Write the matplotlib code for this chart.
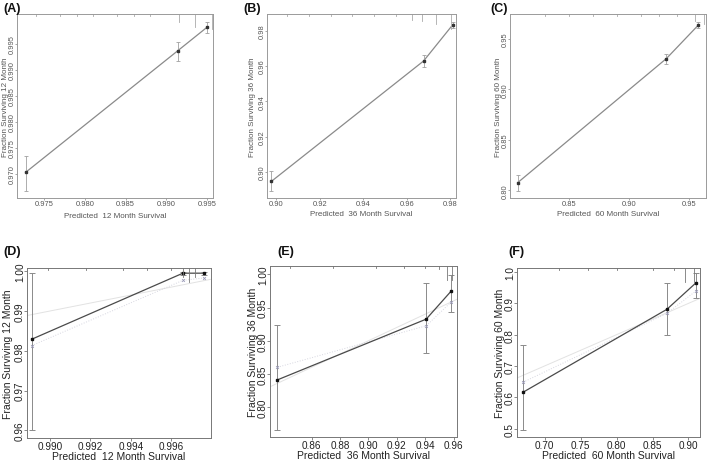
import matplotlib
matplotlib.use("Agg")
import matplotlib.pyplot as plt
from matplotlib.ticker import FormatStrFormatter

plt.rcParams['font.family'] = ['Liberation Sans', 'DejaVu Sans']

# ---- data ----
# top row (A-C): apparent calibration, three risk groups each
a_pred = [0.97275, 0.99140, 0.99496]
a_obs = [0.9703, 0.99372, 0.99821]
a_lo = [0.9667, 0.99180, 0.9971]
a_hi = [0.9734, 0.99545, 0.9993]

b_pred = [0.8977, 0.9677, 0.9811]
b_obs = [0.8947, 0.9629, 0.9834]
b_lo = [0.8890, 0.9594, 0.9813]
b_hi = [0.9004, 0.9663, 0.9851]

c_pred = [0.8072, 0.9309, 0.9575]
c_obs = [0.8076, 0.9306, 0.9638]
c_lo = [0.7993, 0.9253, 0.9605]
c_hi = [0.8155, 0.9355, 0.9670]

# bottom row (D-F): with bias corrected estimates
d_pred = [0.98909, 0.99658, 0.99763]
d_obs = [0.9829, 0.9995, 0.9995]
d_lo = [0.9600, 0.9990, 0.9990]
d_hi = [0.9995, 0.9998, 0.9998]
d_bc = [0.9813, 0.9977, 0.9983]

e_pred = [0.8358, 0.9407, 0.9584]
e_obs = [0.8410, 0.9325, 0.9750]
e_lo = [0.7650, 0.8815, 0.9425]
e_hi = [0.9235, 0.9865, 0.9990]
e_bc = [0.8600, 0.9225, 0.9585]

f_pred = [0.6700, 0.8700, 0.9106]
f_obs = [0.6160, 0.8810, 0.9660]
f_lo = [0.4950, 0.8000, 0.9170]
f_hi = [0.7660, 0.9660, 0.9980]
f_bc = [0.6480, 0.8680, 0.9400]

# spike histogram of predicted values along the top (position, relative height)
a_rug = [0.9740, 0.9770, 0.9790, 0.9810, 0.9840, 0.9860, 0.9880, 0.9915, 0.9935, 0.9956]
a_rug_h = [0.1, 0.1, 0.1, 0.1, 0.1, 0.1, 0.15, 0.5, 0.8, 0.9]
b_rug = [0.905, 0.915, 0.925, 0.935, 0.945, 0.955, 0.9625, 0.967, 0.9735, 0.9805]
b_rug_h = [0.1, 0.1, 0.1, 0.1, 0.1, 0.15, 0.35, 0.4, 0.6, 0.9]
c_rug = [0.83, 0.85, 0.87, 0.89, 0.91, 0.925, 0.94, 0.955, 0.962]
c_rug_h = [0.1, 0.1, 0.1, 0.1, 0.1, 0.1, 0.15, 0.4, 0.6]
d_rug = [0.9899, 0.9918, 0.9936, 0.9948, 0.9960, 0.9966, 0.9969, 0.9972]
d_rug_h = [0.1, 0.1, 0.1, 0.1, 0.1, 0.6, 0.9, 0.6]
e_rug = [0.845, 0.875, 0.905, 0.925, 0.940, 0.950, 0.955, 0.959]
e_rug_h = [0.1, 0.1, 0.1, 0.1, 0.15, 0.2, 0.9, 0.9]
f_rug = [0.72, 0.76, 0.80, 0.85, 0.88, 0.895, 0.908]
f_rug_h = [0.1, 0.1, 0.1, 0.15, 0.15, 0.9, 0.9]

months = ["12", "36", "60"]

# ---- figure ----
W, H = 709, 464
fig = plt.figure(figsize=(W / 100, H / 100), dpi=100)


def box(x0, y0, x1, y1):
    ax = fig.add_axes([x0 / W, 1 - y1 / H, (x1 - x0) / W, (y1 - y0) / H])
    ax.px = (x1 - x0, y1 - y0)
    return ax


def rug(ax, xs, hs, maxlen, color):
    ylo, yhi = ax.get_ylim()
    span = yhi - ylo
    for x, h in zip(xs, hs):
        ax.plot([x, x], [yhi, yhi - h * maxlen * span], color=color, lw=0.6,
                clip_on=False)


def style(ax, xlim, ylim, xt, yt, fmtx, fmty, month, tfs, lfs, col, axcol,
          yoff, xoff, tlen, tpad):
    ax.set_xlim(*xlim)
    ax.set_ylim(*ylim)
    ax.set_xticks(xt)
    ax.set_yticks(yt)
    ax.xaxis.set_major_formatter(FormatStrFormatter(fmtx))
    ax.yaxis.set_major_formatter(FormatStrFormatter(fmty))
    ax.tick_params(labelsize=tfs, colors=axcol, labelcolor=col, length=tlen,
                   width=0.6, pad=tpad)
    ax.tick_params(axis='x', pad=max(tpad - 0.5, 0.3))
    # R style: y tick labels parallel to the axis, sitting right against it
    for lab in ax.get_yticklabels():
        lab.set_rotation(90)
        lab.set_rotation_mode('anchor')
        lab.set_ha('center')
        lab.set_va('baseline')
    for s in ax.spines.values():
        s.set_color(axcol)
        s.set_linewidth(0.7)
    ax.set_xlabel("Predicted  " + month + " Month Survival", fontsize=lfs,
                  color=col, va='center')
    ax.set_ylabel("Fraction Surviving " + month + " Month", fontsize=lfs,
                  color=col, va='center')
    ax.yaxis.set_label_coords(-yoff / ax.px[0], 0.5)
    ax.xaxis.set_label_coords(0.5, -xoff / ax.px[1])


def top_panel(ax, pred, obs, lo, hi, rx, rh, month, xlim, ylim, xt, yt, fmt,
              yoff, xoff):
    ax.plot(pred, obs, color='#8a8a8a', lw=0.9)
    ax.errorbar(pred, obs, yerr=[[o - l for o, l in zip(obs, lo)],
                                 [h - o for o, h in zip(obs, hi)]],
                fmt='none', ecolor='#a0a0a0', elinewidth=0.6, capsize=1.5,
                capthick=0.6)
    ax.plot(pred, obs, 's', color='#333333', ms=1.5)
    style(ax, xlim, ylim, xt, yt, fmt, fmt, month, 5.4, 5.8, '#555555',
          '#9a9a9a', yoff, xoff, 1.5, 0.8)
    rug(ax, rx, rh, 0.09, '#aaaaaa')


def bottom_panel(ax, pred, obs, lo, hi, bc, rx, rh, month, xlim, ylim, xt, yt,
                 fmtx, fmty, yoff, xoff):
    ax.plot(xlim, xlim, color='#e2e2e2', lw=0.7)
    ax.plot(pred, bc, color='#d6d6e0', lw=0.7, ls=':')
    ax.plot(pred, obs, color='#4a4a4a', lw=0.9)
    ax.errorbar(pred, obs, yerr=[[o - l for o, l in zip(obs, lo)],
                                 [h - o for o, h in zip(obs, hi)]],
                fmt='none', ecolor='#8a8a8a', elinewidth=0.7, capsize=2,
                capthick=0.7)
    ax.plot(pred, bc, 'x', color='#9a9ab8', ms=2, mew=0.6)
    ax.plot(pred, obs, 's', color='#111111', ms=2)
    style(ax, xlim, ylim, xt, yt, fmtx, fmty, month, 7.2, 7.5, '#222222',
          '#777777', yoff, xoff, 2, 1)
    rug(ax, rx, rh, 0.09, '#777777')


axA = box(17, 15, 213, 199)
top_panel(axA, a_pred, a_obs, a_lo, a_hi, a_rug, a_rug_h, months[0],
          (0.9717, 0.9957), (0.96538, 1.00077),
          [0.975, 0.980, 0.985, 0.990, 0.995],
          [0.970, 0.975, 0.980, 0.985, 0.990, 0.995], '%.3f', 11, 17)

axB = box(267, 15, 456, 199)
top_panel(axB, b_pred, b_obs, b_lo, b_hi, b_rug, b_rug_h, months[1],
          (0.8957, 0.9826), (0.8853, 0.9895),
          [0.90, 0.92, 0.94, 0.96, 0.98], [0.90, 0.92, 0.94, 0.96, 0.98], '%.2f',
          15, 15.5)

axC = box(510, 15, 706, 199)
top_panel(axC, c_pred, c_obs, c_lo, c_hi, c_rug, c_rug_h, months[2],
          (0.8008, 0.9638), (0.7924, 0.9747),
          [0.85, 0.90, 0.95], [0.80, 0.85, 0.90, 0.95], '%.2f', 11.5, 15.5)

axD = box(27, 269, 211, 439)
bottom_panel(axD, d_pred, d_obs, d_lo, d_hi, d_bc, d_rug, d_rug_h, months[0],
             (0.98886, 0.99797), (0.9581, 1.0008),
             [0.990, 0.992, 0.994, 0.996], [0.96, 0.97, 0.98, 0.99, 1.00],
             '%.3f', '%.2f', 19, 18.5)

axE = box(270, 267, 457, 438)
bottom_panel(axE, e_pred, e_obs, e_lo, e_hi, e_bc, e_rug, e_rug_h, months[1],
             (0.8306, 0.9624), (0.755, 1.0125),
             [0.86, 0.88, 0.90, 0.92, 0.94, 0.96], [0.80, 0.85, 0.90, 0.95, 1.00],
             '%.2f', '%.2f', 17, 18)

axF = box(517, 269, 700, 438)
bottom_panel(axF, f_pred, f_obs, f_lo, f_hi, f_bc, f_rug, f_rug_h, months[2],
             (0.6616, 0.916), (0.473, 1.013),
             [0.70, 0.75, 0.80, 0.85, 0.90], [0.5, 0.6, 0.7, 0.8, 0.9, 1.0],
             '%.2f', '%.1f', 17, 18)

# panel letters
for lab, x, y in [("(A)", 3, 3), ("(B)", 243, 3), ("(C)", 490, 3),
                  ("(D)", 3, 246), ("(E)", 277, 246), ("(F)", 508, 246)]:
    fig.text(x / W, 1 - y / H, lab, fontsize=9, fontweight='bold',
             ha='left', va='top', color='#111111')

fig.savefig("out.png", dpi=100)
